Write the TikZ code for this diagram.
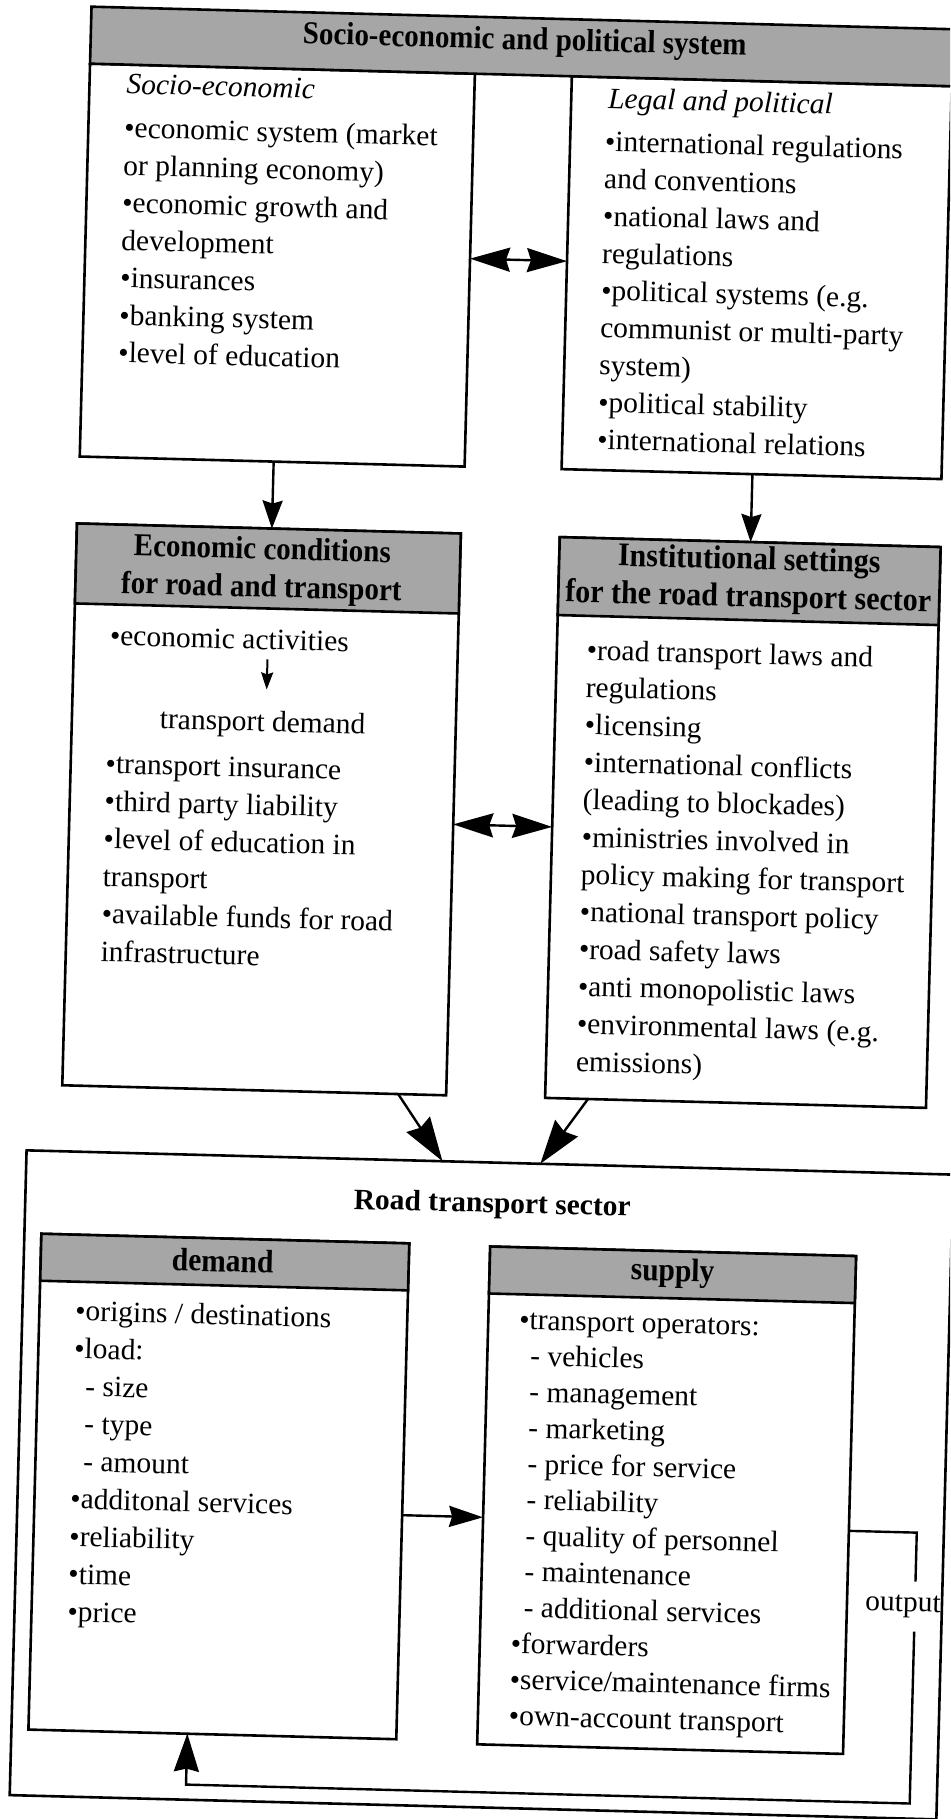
\documentclass[tikz,border=0pt]{standalone}
\usepackage{graphicx}
\usepackage{fontspec}
\setmainfont{Liberation Serif}
\usetikzlibrary{arrows.meta,calc}
\newcommand\bodyfont[1]{\fontsize{29.5}{#1}\selectfont}
\newcommand\tallhead[1]{\scalebox{1}[1.1]{#1}}

\begin{document}
\begin{tikzpicture}[x=1pt, y=-1pt,
  boxframe/.style={draw=black, line width=2.6pt, fill=white, inner sep=0pt, outer sep=0pt, anchor=north west},
  graybar/.style={boxframe, fill=black!35},
  bodytext/.style={align=left, anchor=north west, inner sep=0pt, outer sep=0pt},
  linetext/.style={anchor=base west, inner sep=0pt, outer sep=0pt},
  headtext/.style={align=center, inner sep=0pt, outer sep=0pt},
  conn/.style={line width=2.4pt},
  twohead/.style={conn, arrows={Stealth[length=40pt,width=24pt,inset=4pt]-Stealth[length=40pt,width=24pt,inset=4pt]}},
  downhead/.style={conn, arrows={-Stealth[length=28pt,width=20pt,inset=3pt]}},
  bighead/.style={conn, arrows={-Stealth[length=44pt,width=28pt,inset=4pt]}},
  midhead/.style={conn, arrows={-Stealth[length=34pt,width=21pt,inset=3pt]}},
  uphead/.style={conn, arrows={-Stealth[length=38pt,width=25pt,inset=3pt]}},
  tinyhead/.style={line width=2pt, arrows={-Stealth[length=17pt,width=12pt,inset=2pt]}},
]
\useasboundingbox (0,0) rectangle (950,1819);
\fill[white] (0,0) rectangle (950,1819);
\clip (0,0) rectangle (950,1819);

\begin{scope}[rotate around={-1.5:(475,910)}, transform shape]

% ---------- socio-economic and political system ----------
\node[boxframe, minimum width=385, minimum height=393] (lbox) at (68,74) {};
\node[boxframe, minimum width=380, minimum height=393] (rbox) at (550,74) {};
\node[graybar, minimum width=932, minimum height=57] (sysbar) at (68,17) {};
\node[headtext, font=\fontsize{29}{34}\selectfont\bfseries] (systitle) at (502,41)
  {\tallhead{Socio-economic and political system}};

\node[linetext, font=\bodyfont{37.5}\itshape] (lhead) at (105,103) {Socio-economic};
\node[bodytext, font=\bodyfont{37.5}] (ltext) at (104,120.75)
  {\strut •economic system (market\\or planning economy)\\•economic growth and\\development\\•insurances\\•banking system\\•level of education};

\node[linetext, font=\bodyfont{37.5}\itshape] (rhead) at (587,105) {Legal and political};
\node[bodytext, font=\bodyfont{37.3}] (rtext) at (585,121.9)
  {\strut •international regulations\\and conventions\\•national laws and\\regulations\\•political systems (e.g.\\communist or multi-party\\system)\\•political stability\\•international relations};

\draw[twohead] ($(lbox.north east)!0.4707!(lbox.south east)$) -- ($(rbox.north west)!0.4707!(rbox.south west)$);

% ---------- economic conditions / institutional settings ----------
\node[boxframe, minimum width=384, minimum height=562] (econ) at (67,534) {};
\node[graybar, minimum width=384, minimum height=80] (econbar) at (67,534) {};
\node[headtext, font=\fontsize{29}{38}\selectfont\bfseries] (econtitle) at (253,576)
  {\tallhead{Economic conditions}\\\tallhead{for road and transport}};

\node[boxframe, minimum width=381, minimum height=561] (inst) at (550,535) {};
\node[graybar, minimum width=381, minimum height=78] (instbar) at (550,535) {};
\node[headtext, font=\fontsize{30}{37.5}\selectfont\bfseries] (insttitle) at (740,573)
  {\tallhead{Institutional settings}\\\tallhead{for the road transport sector}};

\draw[downhead] ($(lbox.south west)!0.5039!(lbox.south east)$) -- ($(econ.north west)!0.5078!(econ.north east)$);
\draw[downhead] ($(rbox.south west)!0.5026!(rbox.south east)$) -- ($(inst.north west)!0.5013!(inst.north east)$);

\node[linetext, font=\bodyfont{37.5}] (acts) at (103,655) {•economic activities};
\node[linetext, font=\bodyfont{37.5}] (tdem) at (155,737) {transport demand};
\coordinate (actsfoot) at (261,665);
\coordinate (tdemhead) at (261,695);
\draw[tinyhead] (actsfoot) -- (tdemhead);
\node[bodytext, font=\bodyfont{37.6}] (etext) at (102,756.7)
  {\strut •transport insurance\\•third party liability\\•level of education in\\transport\\•available funds for road\\infrastructure};

\node[bodytext, font=\bodyfont{37.4}] (itext) at (580,630.8)
  {\strut •road transport laws and\\regulations\\•licensing\\•international conflicts\\(leading to blockades)\\•ministries involved in\\policy making for transport\\•national transport policy\\•road safety laws\\•anti monopolistic laws\\•environmental laws (e.g.\\emissions)};

\draw[twohead] ($(econ.north east)!0.5178!(econ.south east)$) -- ($(inst.north west)!0.5169!(inst.south west)$);

% ---------- road transport sector ----------
\node[boxframe, fill=none, minimum width=927, minimum height=645] (sector) at (33,1162) {};
\node[headtext, font=\fontsize{29.5}{34}\selectfont\bfseries] (sectitle) at (500,1205) {Road transport sector};

\draw[bighead] ($(econ.south west)!0.875!(econ.south east)$) -- ($(sector.north west)!0.4488!(sector.north east)$);
\draw[bighead] ($(inst.south west)!0.1129!(inst.south east)$) -- ($(sector.north west)!0.5545!(sector.north east)$);

\node[boxframe, minimum width=368, minimum height=496] (demand) at (50,1245) {};
\node[graybar, minimum width=368, minimum height=47] (demandbar) at (50,1245) {};
\node[headtext, font=\fontsize{29.5}{34}\selectfont\bfseries] (demtitle) at (232,1267) {\tallhead{demand}};
\node[bodytext, font=\bodyfont{37.6}] (dtext) at (86,1304.7)
  {\strut •origins / destinations\\•load:\\\hspace*{12pt}- size\\\hspace*{12pt}- type\\\hspace*{12pt}- amount\\•additonal services\\•reliability\\•time\\•price};

\node[boxframe, minimum width=366, minimum height=498] (supply) at (499,1246) {};
\node[graybar, minimum width=366, minimum height=47] (supplybar) at (499,1246) {};
\node[headtext, font=\fontsize{29.5}{34}\selectfont\bfseries] (suptitle) at (682,1268) {\tallhead{supply}};
\node[bodytext, font=\bodyfont{36}] (stext) at (530,1302.8)
  {\strut •transport operators:\\\hspace*{12pt}- vehicles\\\hspace*{12pt}- management\\\hspace*{12pt}- marketing\\\hspace*{12pt}- price for service\\\hspace*{12pt}- reliability\\\hspace*{12pt}- quality of personnel\\\hspace*{12pt}- maintenance\\\hspace*{12pt}- additional services\\•forwarders\\•service/maintenance firms\\•own-account transport};

\draw[midhead] ($(demand.north east)!0.5484!(demand.south east)$) -- ($(supply.north west)!0.5442!(supply.south west)$);

% output loop back to demand
\node[inner sep=0pt, outer sep=0pt, font=\bodyfont{36}] (outlab) at (921,1595) {output};
\coordinate (loopTop) at (933,1521);
\coordinate (gapTop) at (933,1570);
\coordinate (gapBot) at (933,1620);
\coordinate (loopBot) at (933,1792);
\coordinate (loopEnd) at (209,1792);
\draw[conn] ($(supply.north east)!0.5522!(supply.south east)$) -- (loopTop) -- (gapTop);
\draw[uphead] (gapBot) -- (loopBot) -- (loopEnd) -- ($(demand.south west)!0.432!(demand.south east)$);

\end{scope}
\end{tikzpicture}
\end{document}
